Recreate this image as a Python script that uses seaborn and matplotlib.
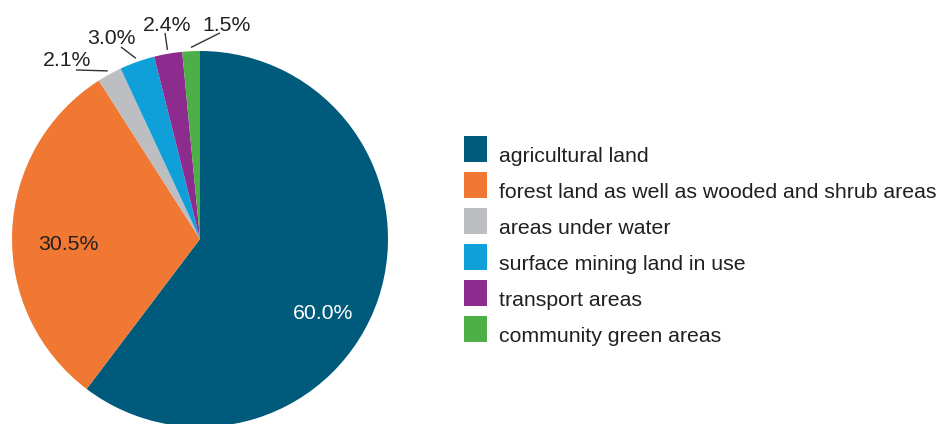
import numpy as np
import matplotlib
matplotlib.use("Agg")
import matplotlib.pyplot as plt
from matplotlib.patches import Patch, Rectangle
from matplotlib.legend_handler import HandlerPatch
import seaborn as sns

# Land use shares (percent)
categories = [
    "agricultural land",
    "forest land as well as wooded and shrub areas",
    "areas under water",
    "surface mining land in use",
    "transport areas",
    "community green areas",
]
shares = [60.0, 30.5, 2.1, 3.0, 2.4, 1.5]
labels = ["60.0%", "30.5%", "2.1%", "3.0%", "2.4%", "1.5%"]
colors = ["#005A7B", "#F07833", "#BDBEC1", "#0FA0D9", "#8E2B8E", "#4CB047"]

sns.set_theme(style="white")
plt.rcParams["font.family"] = ["Liberation Sans", "DejaVu Sans"]

FS = 15.3
TEXT = "#231F20"

fig = plt.figure(figsize=(9.41, 4.24), dpi=100)
# pie centre at (200, 239) px, radius 188 px
ax = fig.add_axes([12 / 941, (424 - 427) / 424, 376 / 941, 376 / 424])
wedges, _ = ax.pie(shares, colors=colors, startangle=90, counterclock=False,
                   radius=1.0, wedgeprops=dict(linewidth=0))
ax.set_xlim(-1, 1)
ax.set_ylim(-1, 1)
ax.set_aspect("equal")
ax.axis("off")

# labels inside the two large slices
inner_pos = {0: (0.654, -0.396), 1: (-0.702, -0.029)}
inner_col = {0: "white", 1: TEXT}
for i, (x, y) in inner_pos.items():
    ax.text(x, y, labels[i], ha="center", va="center", fontsize=FS,
            color=inner_col[i])

# outside labels with leader lines: (line end, text centre)
outer_pos = {
    2: ((-0.660, 0.899), (-0.707, 0.947)),
    3: ((-0.420, 1.021), (-0.471, 1.064)),
    4: ((-0.186, 1.096), (-0.176, 1.134)),
    5: ((0.106, 1.096), (0.141, 1.137)),
}
for i, ((lx, ly), (tx, ty)) in outer_pos.items():
    w = wedges[i]
    mid = np.deg2rad((w.theta1 + w.theta2) / 2)
    r0 = 1.02
    ax.plot([r0 * np.cos(mid), lx], [r0 * np.sin(mid), ly], color="#333333",
            lw=1.0, clip_on=False, solid_capstyle="butt")
    ax.text(tx, ty, labels[i], ha="center", va="center", fontsize=FS,
            color=TEXT, clip_on=False)


def baseline_square(legend, orig_handle, xdescent, ydescent, width, height,
                    fontsize):
    # swatch sits on the text baseline
    return Rectangle((-xdescent, 0), width, height)


handles = [Patch(facecolor=c, edgecolor="none") for c in colors]
fig.legend(handles, categories, loc="upper left",
           bbox_to_anchor=(464 / 941, 1 - 142 / 424), frameon=False,
           fontsize=FS, handlelength=1.08, handleheight=1.5,
           handletextpad=0.57, labelspacing=0.47, borderpad=0,
           borderaxespad=0, labelcolor=TEXT,
           handler_map={Patch: HandlerPatch(patch_func=baseline_square)})

fig.savefig("out.png", dpi=100)
